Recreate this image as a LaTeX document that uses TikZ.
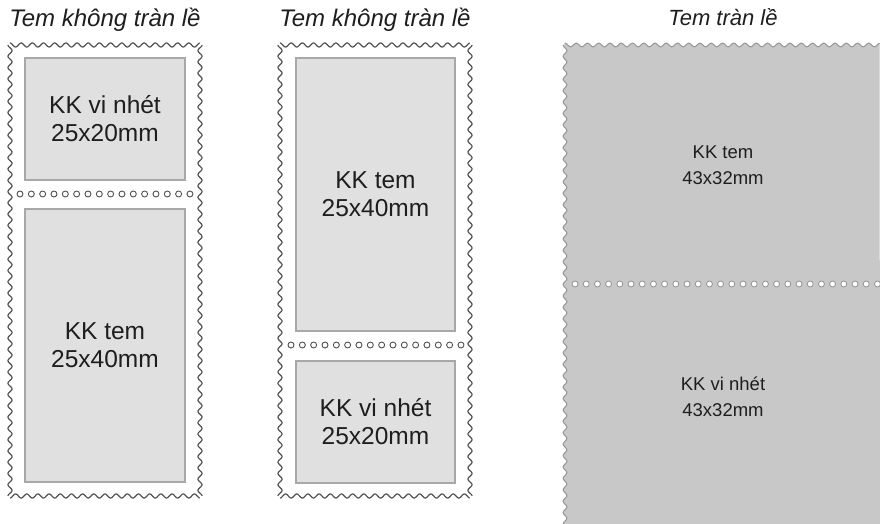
\documentclass[tikz,border=0pt]{standalone}
\usepackage{fontspec}
\setmainfont{Liberation Sans}
\definecolor{wavec}{HTML}{505050}
\definecolor{boxfill}{HTML}{E0E0E0}
\definecolor{boxline}{HTML}{A8A8A8}
\definecolor{bigfill}{HTML}{C8C8C8}
\definecolor{bigline}{HTML}{9A9A9A}
\definecolor{txt}{HTML}{1E1E1E}
\tikzset{
  inbox/.style={draw=boxline, fill=boxfill, line width=1.2pt, align=center,
    font=\fontsize{24.5}{28}\selectfont, text=txt, inner sep=0pt},
  titletext/.style={font=\itshape\fontsize{24}{26}\selectfont, text=txt, anchor=base},
  bigtext/.style={align=center, font=\fontsize{18.5}{26}\selectfont, text=txt},
  hole/.style={draw=wavec, fill=white, line width=0.9pt},
  bighole/.style={draw=bigline, fill=white, line width=0.9pt},
  wave/.style={draw=wavec, line width=1.2pt},
}
% #1 x1, #2 y1, #3 x2, #4 y2, #5 periods along x, #6 periods along y
\newcommand\wavyframe[6]{%
  \draw[wave] plot[domain=0:1,samples=400] ({#1+\x*(#3-#1)},{#2-2*cos(\x*#5*360)});
  \draw[wave] plot[domain=0:1,samples=400] ({#1+\x*(#3-#1)},{#4+2*cos(\x*#5*360)});
  \draw[wave] plot[domain=0:1,samples=800] ({#1-2*cos(\x*#6*360)},{#2+\x*(#4-#2)});
  \draw[wave] plot[domain=0:1,samples=800] ({#3+2*cos(\x*#6*360)},{#2+\x*(#4-#2)});
}
\begin{document}
\begin{tikzpicture}[x=1pt,y=-1pt]
\useasboundingbox (0,0) rectangle (880,524);
% ---- stamp 1 ----
\node[titletext] (title1) at (105,27) {Tem không tràn lề};
\wavyframe{10}{45}{200}{496}{17}{40}
\node[inbox, minimum width=160pt, minimum height=122pt] (b1a) at (105,119) {KK vi nhét\\25x20mm};
\node[inbox, minimum width=160pt, minimum height=273pt] (b1b) at (105,345.5) {KK tem\\25x40mm};
\foreach \i in {0,...,15} \draw[hole] ({20+\i*11.33},194) circle[radius=3pt];
% ---- stamp 2 ----
\node[titletext] (title2) at (375,27) {Tem không tràn lề};
\wavyframe{280}{45}{470}{496}{17}{40}
\node[inbox, minimum width=159pt, minimum height=273pt] (b2a) at (375.5,194.5) {KK tem\\25x40mm};
\node[inbox, minimum width=159pt, minimum height=122pt] (b2b) at (375.5,422) {KK vi nhét\\25x20mm};
\foreach \i in {0,...,15} \draw[hole] ({291+\i*11.33},345) circle[radius=3pt];
% ---- stamp 3 ----
\node[titletext, font=\itshape\fontsize{22}{26}\selectfont] (title3) at (723,26) {Tem tràn lề};
\fill[bigfill] plot[domain=0:1,samples=400] ({565+\x*315},{45-1.8*cos(\x*28*360)})
  -- (880,524) -- plot[domain=1:0,samples=800] ({565-1.8*cos(\x*42*360)},{45+\x*479}) -- cycle;
\draw[bigline, line width=1.1pt] plot[domain=0:1,samples=400] ({565+\x*315},{45-1.8*cos(\x*28*360)});
\draw[bigline, line width=1.1pt] plot[domain=0:1,samples=800] ({565-1.8*cos(\x*42*360)},{45+\x*479});
\foreach \i in {0,...,27} \draw[bighole] ({575+\i*11.2},284) circle[radius=3pt];
\node[bigtext] (t3a) at (723,165) {KK tem\\43x32mm};
\node[bigtext] (t3b) at (723,397) {KK vi nhét\\43x32mm};
\end{tikzpicture}
\end{document}
